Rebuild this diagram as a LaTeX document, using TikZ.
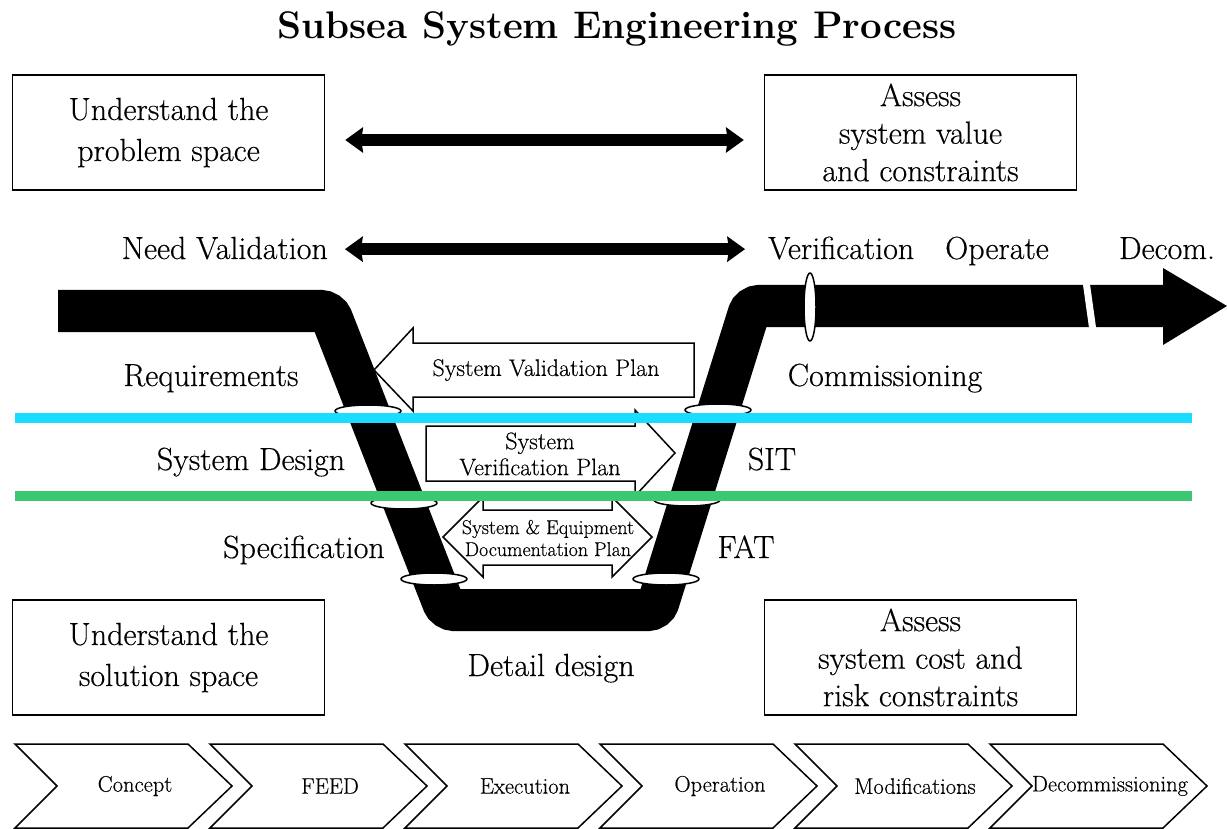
\documentclass[tikz,border=0pt]{standalone}
\usepackage{fontspec}
\newfontfamily\heavy{Latin Modern Roman}[FakeBold=0.4]
\usetikzlibrary{arrows.meta}
\definecolor{seacyan}{RGB}{25,220,255}
\definecolor{seagreen}{RGB}{60,200,115}
\tikzset{
  bigfont/.style={font=\heavy\fontsize{32}{41}\selectfont},
  lbl/.style={bigfont, inner sep=0pt, anchor=base},
  infobox/.style={draw, line width=1.5pt, minimum width=312pt,
    minimum height=115pt, align=center, inner sep=0pt, bigfont},
  tightbox/.style={infobox, font=\heavy\fontsize{32}{37.5}\selectfont},
  bigtip/.tip={Stealth[length=18pt,width=26pt,inset=2pt,line width=0pt]},
  dblarrow/.style={line width=12pt, bigtip-bigtip},
  planarrow/.style={draw, line width=1.5pt, fill=white},
  planfont/.style={font=\heavy\fontsize{24}{26}\selectfont, align=center, inner sep=0pt},
  ring/.style={draw, line width=1.5pt, fill=white},
  chev/.style={draw, line width=1.5pt},
  stagefont/.style={font=\heavy\fontsize{22.5}{24}\selectfont, inner sep=0pt}
}
\begin{document}
\begin{tikzpicture}[x=1pt,y=-1pt]
\useasboundingbox (0,0) rectangle (1227,829);
% title
\node[font=\fontsize{38.5}{40}\selectfont\bfseries, anchor=base] (title) at (617,39)
  {Subsea System Engineering Process};
% boxes
\node[infobox] (prob) at (168.5,132.5) {Understand the\\problem space};
\node[tightbox] (val) at (920.5,132.5) {Assess\\system value\\and constraints};
\node[infobox] (sol) at (168.5,657.5) {Understand the\\solution space};
\node[tightbox] (cost) at (920.5,657.5) {Assess\\system cost and\\risk constraints};
\draw[dblarrow, shorten <=20pt, shorten >=20pt]
  ([yshift=-7.5pt]prob.east) -- ([yshift=-7.5pt]val.west);
% phase labels
\node[lbl, anchor=base east] (needval) at (328,259) {Need Validation};
\node[lbl, anchor=base west] (verif) at (768,259) {Verification};
\node[lbl] (operate) at (997,259) {Operate};
\node[lbl] (decom) at (1167,259) {Decom.};
\draw[dblarrow, shorten <=17pt, shorten >=23pt]
  ([yshift=-1pt]needval.east) -- ([yshift=-1pt]needval.east -| verif.west);
\node[lbl] (req) at (211,386) {Requirements};
\node[lbl] (sysdes) at (251,470) {System Design};
\node[lbl] (spec) at (304,558) {Specification};
\node[lbl] (comm) at (885,386) {Commissioning};
\node[lbl] (sit) at (772,470) {SIT};
\node[lbl] (fat) at (746,558) {FAT};
\node[lbl] (detail) at (551,676) {Detail design};
% the V
\draw[line width=42pt, rounded corners=8pt] (58,311) -- (329,311) -- (446,610)
  -- (656,610) -- (751,306) -- (1164,306);
\fill (1163,268) -- (1227,306) -- (1163,345) -- cycle;
\draw[white, line width=7pt] (1086,281) -- (1093,331);
\draw[ring] (810,307) ellipse [x radius=6pt, y radius=34pt];
\draw[ring] (368,411) ellipse [x radius=33pt, y radius=6pt];
\draw[ring] (404,503) ellipse [x radius=33pt, y radius=6pt];
\draw[ring] (434,579) ellipse [x radius=33pt, y radius=6pt];
\draw[ring] (718,410) ellipse [x radius=33pt, y radius=6pt];
\draw[ring] (687,500) ellipse [x radius=33pt, y radius=6pt];
\draw[ring] (666,579) ellipse [x radius=33pt, y radius=6pt];
% plans
\draw[planarrow] (694,343) -- (413,343) -- (413,328) -- (374,370) -- (413,411)
  -- (413,397) -- (694,397) -- cycle;
\node[planfont] (valplan) at (546,370) {System Validation Plan};
\draw[planarrow] (426,426) -- (635,426) -- (635,410) -- (675,453) -- (635,496)
  -- (635,481) -- (426,481) -- cycle;
\node[planfont] (verplan) at (540,454) {System\\Verification Plan};
\draw[planarrow] (443,537) -- (483,497) -- (483,510) -- (612,510) -- (612,497)
  -- (652,537) -- (612,577) -- (612,565) -- (483,565) -- (483,577) -- cycle;
\node[planfont, font=\heavy\fontsize{20}{22}\selectfont] (docplan) at (548,538)
  {System \& Equipment\\Documentation Plan};
% levels
\draw[seacyan, line width=10pt] (15,418) -- (1192,418);
\draw[seagreen, line width=10pt] (15,496) -- (1192,496);
% stages
\foreach \x/\nm/\txt in {15/concept/Concept,210/feed/FEED,405/exec/Execution,
  600/oper/Operation,795/modif/Modifications,990/decomm/Decommissioning}{
  \draw[chev] (\x,744) -- ++(173,0) -- ++(44,42) -- ++(-44,42) -- ++(-173,0)
    -- ++(42,-42) -- cycle;
  \node[stagefont] (\nm) at (\x+120,786) {\txt};
}
\end{tikzpicture}
\end{document}
